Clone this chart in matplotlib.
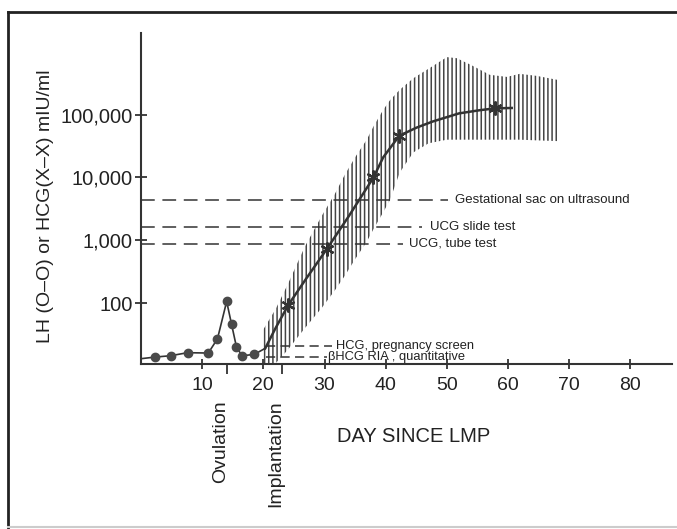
import numpy as np
import matplotlib.pyplot as plt
from matplotlib.lines import Line2D

plt.rcParams['font.family'] = ['Liberation Sans', 'DejaVu Sans']
plt.rcParams['hatch.linewidth'] = 1.1

# LH values (circles), line starts at the axis
lh_day = [0, 2.3, 4.85, 7.6, 11, 12.5, 14, 14.8, 15.6, 16.5, 18.5, 20.3]
lh_val = [13, 13.8, 14.5, 16.2, 16, 27, 106, 46, 20, 14.5, 15.2, 19]

# HCG mean curve
hcg_day = [20.3, 22, 24.1, 27, 30.4, 34, 38, 39.6, 42.2, 45, 47.7, 52, 55.4, 57.8, 60.6]
hcg_val = [19, 40, 94, 245, 733, 2450, 10000, 21000, 46000, 62000, 78000, 105000,
           118000, 126000, 128000]
hcg_marks = [2, 4, 6, 8, 13]

# HCG range (hatched band)
band_day = [20, 22, 24, 26.8, 29.6, 31.7, 33.3, 35, 36.9, 38, 39.6, 40.7, 42.3,
            44.5, 47, 50, 51.6, 53.8, 57, 59.8, 61.9, 64.7, 68]
band_low = [10, 11, 18, 40, 85, 160, 270, 500, 950, 1500, 2800, 4400, 12000,
            25000, 35000, 40000, 40000, 40000, 40000, 40000, 40000, 39000, 38000]
band_high = [38, 80, 200, 800, 2500, 5500, 11000, 21000, 40000, 65000, 120000, 170000, 250000,
             380000, 540000, 826000, 795000, 630000, 432000, 400000, 447000, 415000, 360000]

# threshold lines: level, start day, end day, label, label day
thr_names = ['Gestational sac on ultrasound', 'UCG slide test', 'UCG, tube test',
             'HCG, pregnancy screen', 'βHCG RIA , quantitative']
thr_level = [4400, 1600, 880, 21, 14]
thr_start = [0, 0, 0, 20.5, 20.5]
thr_end = [50.2, 45.9, 42.8, 31.2, 30.4]
thr_text = [51.3, 47.2, 43.8, 31.8, 30.6]

yticks = [100, 1000, 10000, 100000]
ytick_labels = ['100', '1,000', '10,000', '100,000']
xticks = [10, 20, 30, 40, 50, 60, 70, 80]
event_days = [14, 23]

ink = '#333333'

fig = plt.figure(figsize=(6.77, 5.29), dpi=100)
ax = fig.add_axes([0.2083, 0.3119, 0.7843, 0.6257])

ax.fill_between(band_day, band_low, band_high, facecolor='none', edgecolor='#444444',
                hatch='||||', linewidth=0, zorder=1)

ax.plot(lh_day, lh_val, color=ink, lw=1.2, marker='o', ms=6,
        markevery=list(range(1, len(lh_day) - 1)), mfc='#4a4a4a', mec='#4a4a4a', zorder=3)
ax.plot(hcg_day, hcg_val, color=ink, lw=1.8, zorder=3)
ax.plot([hcg_day[i] for i in hcg_marks], [hcg_val[i] for i in hcg_marks], ls='none',
        marker=(6, 2, 0), ms=10, mew=1.6, color=ink, zorder=4)

for i in range(len(thr_names)):
    small = thr_level[i] < 100
    ax.plot([thr_start[i], thr_end[i]], [thr_level[i], thr_level[i]], color=ink,
            lw=1.1, dashes=(6, 3.5) if small else (9, 5), zorder=2)
    ax.text(thr_text[i], thr_level[i], thr_names[i], fontsize=9.3 if small else 9.5,
            va='center', ha='left', color='#222222')

ax.set_yscale('log')
ax.set_ylim(10.7, 2.0e6)
ax.set_xlim(0, 86.8)
ax.set_yticks(yticks)
ax.set_yticklabels(ytick_labels)
ax.yaxis.set_minor_locator(plt.NullLocator())
ax.set_xticks(xticks)
ax.set_xticks(event_days, minor=True)

for s in ['top', 'right']:
    ax.spines[s].set_visible(False)
for s in ['left', 'bottom']:
    ax.spines[s].set_linewidth(1.5)
    ax.spines[s].set_color(ink)

ax.tick_params(axis='y', which='major', direction='inout', length=8, width=1.3,
               color=ink, labelsize=14.5, pad=2, labelcolor='#222222')
ax.tick_params(axis='x', which='major', direction='inout', length=7, width=1.3,
               color=ink, labelsize=14, pad=6, labelcolor='#222222')
ax.tick_params(axis='x', which='minor', direction='out', length=7, width=1.3, color=ink)

ax.set_ylabel('LH (O–O) or HCG(X–X) mIU/ml', fontsize=14, color='#222222')
ax.yaxis.set_label_coords(-0.163, 0.477)

fig.text(221 / 677, 1 - 400 / 529, 'Ovulation', rotation=90, fontsize=14,
         ha='center', va='top', color='#222222')
fig.text(276 / 677, 1 - 400 / 529, 'Implantation', rotation=90, fontsize=14,
         ha='center', va='top', color='#222222')
fig.text(337 / 677, 1 - 436 / 529, 'DAY SINCE LMP', fontsize=14.5,
         ha='left', va='center', color='#222222')

# page frame
fig.add_artist(Line2D([8 / 677, 1], [1 - 12 / 529] * 2, transform=fig.transFigure,
                      color='#222222', lw=2))
fig.add_artist(Line2D([8 / 677] * 2, [0, 1 - 12 / 529], transform=fig.transFigure,
                      color='#222222', lw=2))
fig.add_artist(Line2D([8 / 677, 1], [2 / 529] * 2, transform=fig.transFigure,
                      color='#cccccc', lw=1.5))

fig.savefig('out.png', dpi=100)
